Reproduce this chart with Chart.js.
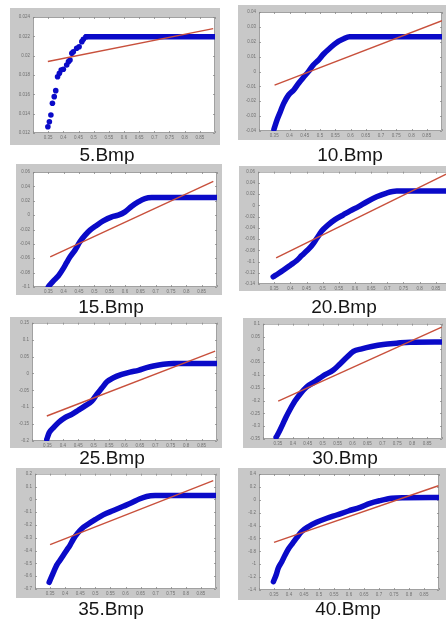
<!DOCTYPE html>
<html>
<head>
<meta charset="utf-8">
<script src="https://cdn.jsdelivr.net/npm/chart.js@4.4.1/dist/chart.umd.min.js"></script>
<style>
  html, body { margin: 0; padding: 0; background: #fff; }
  body { position: relative; width: 446px; height: 620px; overflow: hidden; }
  .cap {
    position: absolute;
    font-family: "Liberation Sans", Arial, sans-serif;
    font-size: 19px;
    color: #151515;
    white-space: nowrap;
    transform: translate(-50%, -50%);
  }
</style>
</head>
<body>
<script>
const captions = ["5.Bmp", "10.Bmp", "15.Bmp", "20.Bmp", "25.Bmp", "30.Bmp", "35.Bmp", "40.Bmp"];

// shared x axis: [min, max, step]
const xTicks = [0.3, 0.9, 0.05];

// 5.Bmp
const x5 = [0.349, 0.354, 0.359, 0.364, 0.370, 0.375, 0.381, 0.387, 0.393, 0.400, 0.411, 0.417, 0.422, 0.428, 0.433, 0.444, 0.452, 0.461, 0.466, 0.475, 0.9];
const y5 = [0.01265, 0.01317, 0.01386, 0.01507, 0.01576, 0.01638, 0.01782, 0.01817, 0.01852, 0.01859, 0.01903, 0.01938, 0.01955, 0.02024, 0.02041, 0.02076, 0.02093, 0.02145, 0.02169, 0.02196, 0.02196];
const fitX5 = [0.349, 0.894];
const fitY5 = [0.0194, 0.0228];
const yTicks5 = [0.012, 0.024, 0.002];

// 10.Bmp
const x10 = [0.349, 0.359, 0.370, 0.381, 0.397, 0.414, 0.430, 0.446, 0.462, 0.478, 0.495, 0.511, 0.532, 0.554, 0.576, 0.597, 0.9];
const y10 = [-0.0389, -0.0326, -0.0270, -0.0214, -0.0158, -0.0124, -0.0079, -0.0039, -0.0001, 0.0044, 0.0077, 0.0116, 0.0156, 0.0194, 0.0218, 0.0234, 0.0234];
const fitX10 = [0.351, 0.9];
const fitY10 = [-0.0091, 0.0342];
const yTicks10 = [-0.04, 0.04, 0.01];

// 15.Bmp
const x15 = [0.350, 0.366, 0.383, 0.399, 0.410, 0.421, 0.437, 0.453, 0.470, 0.486, 0.508, 0.529, 0.557, 0.578, 0.600, 0.622, 0.643, 0.665, 0.687, 0.9];
const y15 = [-0.0996, -0.0917, -0.0843, -0.0741, -0.0658, -0.0580, -0.0487, -0.0371, -0.0278, -0.0209, -0.0140, -0.0080, -0.0024, -0.0001, 0.0045, 0.0124, 0.0184, 0.0231, 0.0245, 0.0245];
const fitX15 = [0.356, 0.888];
const fitY15 = [-0.058, 0.0471];
const yTicks15 = [-0.1, 0.06, 0.02];

// 20.Bmp
const x20 = [0.347, 0.363, 0.378, 0.399, 0.420, 0.435, 0.451, 0.466, 0.482, 0.497, 0.518, 0.538, 0.564, 0.585, 0.611, 0.637, 0.667, 0.698, 0.729, 0.9];
const y20 = [-0.1271, -0.1213, -0.1156, -0.1069, -0.0981, -0.0894, -0.0807, -0.0720, -0.0586, -0.0458, -0.0342, -0.0254, -0.0167, -0.0098, -0.0022, 0.0065, 0.0152, 0.0220, 0.0255, 0.0255];
const fitX20 = [0.356, 0.89];
const fitY20 = [-0.0934, 0.058];
const yTicks20 = [-0.14, 0.06, 0.02];

// 25.Bmp
const x25 = [0.348, 0.356, 0.369, 0.385, 0.407, 0.429, 0.450, 0.472, 0.494, 0.510, 0.526, 0.543, 0.564, 0.591, 0.618, 0.645, 0.672, 0.694, 0.726, 0.759, 0.9];
const y25 = [-0.195, -0.175, -0.161, -0.146, -0.131, -0.121, -0.109, -0.096, -0.082, -0.062, -0.044, -0.025, -0.013, -0.003, 0.004, 0.009, 0.017, 0.022, 0.027, 0.029, 0.029];
const fitX25 = [0.348, 0.894];
const fitY25 = [-0.126, 0.066];
const yTicks25 = [-0.2, 0.15, 0.05];

// 30.Bmp
const x30 = [0.344, 0.355, 0.366, 0.377, 0.391, 0.407, 0.424, 0.446, 0.474, 0.502, 0.536, 0.558, 0.581, 0.603, 0.631, 0.664, 0.703, 0.748, 0.793, 0.9];
const y30 = [-0.343, -0.320, -0.293, -0.265, -0.234, -0.202, -0.175, -0.147, -0.126, -0.103, -0.081, -0.057, -0.031, -0.008, 0.002, 0.011, 0.019, 0.024, 0.028, 0.029];
const fitX30 = [0.351, 0.899];
const fitY30 = [-0.202, 0.087];
const yTicks30 = [-0.35, 0.1, 0.05];

// 35.Bmp
const x35 = [0.347, 0.355, 0.363, 0.372, 0.383, 0.394, 0.405, 0.416, 0.427, 0.440, 0.455, 0.473, 0.499, 0.526, 0.560, 0.593, 0.620, 0.648, 0.670, 0.698, 0.9];
const y35 = [-0.648, -0.604, -0.560, -0.514, -0.475, -0.436, -0.397, -0.359, -0.312, -0.268, -0.229, -0.198, -0.159, -0.121, -0.087, -0.054, -0.027, 0.004, 0.022, 0.029, 0.03];
const fitX35 = [0.350, 0.891];
const fitY35 = [-0.353, 0.146];
const yTicks35 = [-0.7, 0.2, 0.1];

// 40.Bmp
const x40 = [0.348, 0.357, 0.364, 0.376, 0.387, 0.398, 0.412, 0.426, 0.442, 0.464, 0.492, 0.526, 0.559, 0.598, 0.637, 0.670, 0.703, 0.742, 0.781, 0.9];
const y40 = [-1.271, -1.167, -1.063, -0.961, -0.857, -0.764, -0.676, -0.588, -0.495, -0.418, -0.350, -0.287, -0.236, -0.174, -0.117, -0.055, -0.014, 0.023, 0.032, 0.035];
const fitX40 = [0.350, 0.898];
const fitY40 = [-0.660, 0.218];
const yTicks40 = [-1.4, 0.4, 0.2];

const BLUE = "#0a0ac8";
const RED = "#c8503c";
const FRAME = "#c8c8c8";

// frame = gray box, plot = white axes box, cap = caption centre (page px)
const panels = [
  { name: captions[0], xs: x5, ys: y5, fx: fitX5, fy: fitY5, yt: yTicks5, frame: [10, 8, 220, 145], plot: [33, 17, 215, 133], cap: [107, 155], dots: true },
  { name: captions[1], xs: x10, ys: y10, fx: fitX10, fy: fitY10, yt: yTicks10, frame: [238, 5, 446, 140], plot: [259, 12, 442, 131], cap: [350, 155] },
  { name: captions[2], xs: x15, ys: y15, fx: fitX15, fy: fitY15, yt: yTicks15, frame: [16, 164, 222, 295], plot: [33, 172, 217, 287], cap: [111, 307] },
  { name: captions[3], xs: x20, ys: y20, fx: fitX20, fy: fitY20, yt: yTicks20, frame: [239, 166, 470, 291], plot: [258, 171, 452, 284], cap: [344, 307] },
  { name: captions[4], xs: x25, ys: y25, fx: fitX25, fy: fitY25, yt: yTicks25, frame: [10, 317, 222, 448], plot: [32, 322, 217, 441], cap: [112, 458] },
  { name: captions[5], xs: x30, ys: y30, fx: fitX30, fy: fitY30, yt: yTicks30, frame: [243, 318, 446, 448], plot: [263, 323, 442, 439], cap: [345, 458] },
  { name: captions[6], xs: x35, ys: y35, fx: fitX35, fy: fitY35, yt: yTicks35, frame: [16, 468, 220, 598], plot: [35, 473, 216, 589], cap: [111, 609] },
  { name: captions[7], xs: x40, ys: y40, fx: fitX40, fy: fitY40, yt: yTicks40, frame: [238, 468, 446, 600], plot: [259, 474, 439, 590], cap: [348, 609] },
];

const tickFormat = (v) => String(parseFloat(v.toFixed(4)));

// white axes box, thin border and inward tick marks like the old matlab plots
const matlabAxes = {
  id: "matlabAxes",
  beforeDraw(chart) {
    const { ctx, chartArea: a } = chart;
    ctx.save();
    ctx.fillStyle = "#fff";
    ctx.fillRect(a.left, a.top, a.right - a.left, a.bottom - a.top);
    ctx.restore();
  },
  beforeDatasetsDraw(chart) {
    const { ctx, chartArea: a, scales } = chart;
    ctx.save();
    ctx.strokeStyle = "#8a8a8a";
    ctx.lineWidth = 0.8;
    ctx.strokeRect(a.left + 0.5, a.top + 0.5, a.right - a.left - 1, a.bottom - a.top - 1);
    ctx.beginPath();
    scales.x.ticks.forEach((t) => {
      const px = Math.round(scales.x.getPixelForValue(t.value)) + 0.5;
      ctx.moveTo(px, a.bottom);
      ctx.lineTo(px, a.bottom - 2);
      ctx.moveTo(px, a.top);
      ctx.lineTo(px, a.top + 2);
    });
    scales.y.ticks.forEach((t) => {
      const py = Math.round(scales.y.getPixelForValue(t.value)) + 0.5;
      ctx.moveTo(a.left, py);
      ctx.lineTo(a.left + 2, py);
      ctx.moveTo(a.right, py);
      ctx.lineTo(a.right - 2, py);
    });
    ctx.stroke();
    ctx.restore();
  },
};

const tickFont = { family: "'Liberation Sans', Arial, sans-serif", size: 4.5 };

function makePanel(p) {
  const [fl, ft, fr, fb] = p.frame;
  const [pl, pt, pr, pb] = p.plot;

  const canvas = document.createElement("canvas");
  canvas.width = fr - fl;
  canvas.height = fb - ft;
  canvas.style.cssText = `position:absolute;left:${fl}px;top:${ft}px;width:${fr - fl}px;height:${fb - ft}px;background:${FRAME};`;
  document.body.appendChild(canvas);

  const cap = document.createElement("div");
  cap.className = "cap";
  cap.textContent = p.name;
  cap.style.left = p.cap[0] + "px";
  cap.style.top = p.cap[1] + "px";
  document.body.appendChild(cap);

  const last = p.xs.length - 1;
  const flatFrom = p.xs[last - 1];

  new Chart(canvas, {
    type: "line",
    data: {
      datasets: [
        {
          data: p.fx.map((x, i) => ({ x, y: p.fy[i] })),
          borderColor: RED,
          borderWidth: 1.4,
          pointRadius: 0,
        },
        {
          data: p.xs.map((x, i) => ({ x, y: p.ys[i] })),
          borderColor: BLUE,
          backgroundColor: BLUE,
          borderWidth: 5.5,
          borderCapStyle: "round",
          borderJoinStyle: "round",
          cubicInterpolationMode: "monotone",
          pointRadius: p.dots ? (c) => (c.dataIndex < last ? 2.8 : 0) : 0,
          pointBorderWidth: 0,
          segment: p.dots
            ? { borderColor: (c) => (c.p0.parsed.x < flatFrom - 0.001 ? "rgba(0,0,0,0)" : BLUE) }
            : undefined,
        },
      ],
    },
    options: {
      responsive: false,
      animation: false,
      devicePixelRatio: 1,
      events: [],
      layout: { padding: { top: pt - ft, right: fr - pr, left: 0, bottom: 0 } },
      plugins: { legend: { display: false }, tooltip: { enabled: false } },
      scales: {
        x: {
          type: "linear",
          min: xTicks[0],
          max: xTicks[1],
          grid: { display: false, drawTicks: false, tickLength: 0 },
          border: { display: false },
          ticks: {
            stepSize: xTicks[2],
            autoSkip: false,
            maxRotation: 0,
            padding: 2,
            color: "#707070",
            font: tickFont,
            callback: (v) => (v < 0.32 || v > 0.88 ? "" : tickFormat(v)),
          },
          afterFit: (s) => { s.height = fb - pb; },
        },
        y: {
          type: "linear",
          min: p.yt[0],
          max: p.yt[1],
          grid: { display: false, drawTicks: false, tickLength: 0 },
          border: { display: false },
          ticks: {
            stepSize: p.yt[2],
            autoSkip: false,
            padding: 3,
            color: "#707070",
            font: tickFont,
            callback: (v) => tickFormat(v),
          },
          afterFit: (s) => { s.width = pl - fl; },
        },
      },
    },
    plugins: [matlabAxes],
  });
}

panels.forEach(makePanel);
</script>
</body>
</html>
